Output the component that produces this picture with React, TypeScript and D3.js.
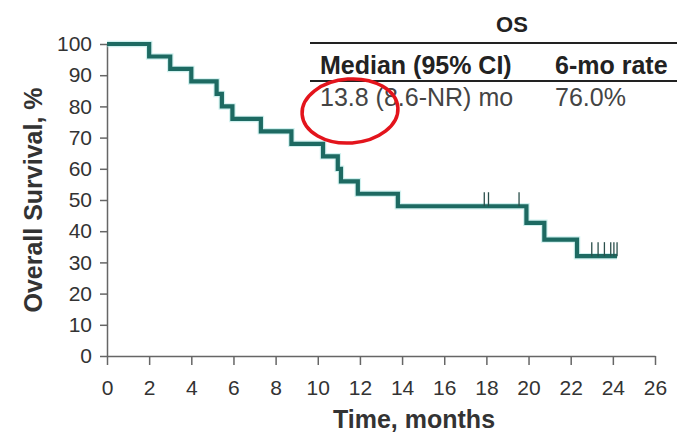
import React, { useEffect, useRef } from 'react';
import * as d3 from 'd3';

// Kaplan-Meier steps: time of each death (months) and survival (%) after it
const eventTimes = [2.0, 3.0, 4.0, 5.2, 5.45, 5.95, 7.3, 8.75, 10.25, 10.95, 11.1, 11.9, 13.8, 19.9, 20.75, 22.3];
const survivalAfter = [96, 92, 88, 84, 80, 76, 72, 68, 64, 60, 56, 52, 48, 42.7, 37.3, 32.0];
const censorTimes = [17.9, 18.1, 19.55, 23.0, 23.3, 23.6, 23.9, 24.05, 24.2];
const lastFollowUp = 24.2;

const xTicks = [0, 2, 4, 6, 8, 10, 12, 14, 16, 18, 20, 22, 24, 26];
const yTicks = [0, 10, 20, 30, 40, 50, 60, 70, 80, 90, 100];

const tableTitle = 'OS';
const tableHeaders = ['Median (95% CI)', '6-mo rate'];
const tableRow = ['13.8 (8.6-NR) mo', '76.0%'];

const W = 677;
const H = 435;
const FONT = 'Arial, "Liberation Sans", sans-serif';

function KMChart() {
  const svgRef = useRef<SVGSVGElement>(null);

  useEffect(() => {
    const svg = d3.select(svgRef.current);
    svg.selectAll('*').remove();

    const x = d3.scaleLinear().domain([0, 26]).range([107, 655]);
    const y = d3.scaleLinear().domain([0, 100]).range([356, 44]);

    // axes
    const xAxis = svg.append('g')
      .attr('transform', `translate(0, ${y(0)})`)
      .call(d3.axisBottom(x).tickValues(xTicks).tickSize(9).tickPadding(15).tickSizeOuter(0));
    const yAxis = svg.append('g')
      .attr('transform', `translate(${x(0)}, 0)`)
      .call(d3.axisLeft(y).tickValues(yTicks).tickSize(7).tickPadding(8).tickSizeOuter(0));

    [xAxis, yAxis].forEach(a => {
      a.select('.domain').attr('stroke', '#666').attr('stroke-width', 1.5);
      a.selectAll('.tick line').attr('stroke', '#666').attr('stroke-width', 1.5);
      a.selectAll('.tick text')
        .attr('fill', '#333')
        .style('font-family', FONT)
        .style('font-size', '21px');
    });

    // survival curve
    const pts = [{ t: 0, s: 100 }]
      .concat(eventTimes.map((t, i) => ({ t, s: survivalAfter[i] })))
      .concat([{ t: lastFollowUp, s: survivalAfter[survivalAfter.length - 1] }]);

    const line = d3.line<{ t: number; s: number }>()
      .x(d => x(d.t))
      .y(d => y(d.s))
      .curve(d3.curveStepAfter);

    svg.append('path')
      .datum(pts)
      .attr('fill', 'none')
      .attr('stroke', '#9fe3df')
      .attr('stroke-width', 6.5)
      .attr('opacity', 0.5)
      .attr('d', line);
    svg.append('path')
      .datum(pts)
      .attr('fill', 'none')
      .attr('stroke', '#1d6a62')
      .attr('stroke-width', 4.2)
      .attr('d', line);

    // censor marks
    const survAt = (t: number) => {
      let s = 100;
      eventTimes.forEach((e, i) => { if (e <= t) s = survivalAfter[i]; });
      return s;
    };
    svg.append('g')
      .selectAll('line')
      .data(censorTimes)
      .join('line')
      .attr('x1', d => x(d))
      .attr('x2', d => x(d))
      .attr('y1', d => y(survAt(d)) - 14)
      .attr('y2', d => y(survAt(d)))
      .attr('stroke', '#2a4f4b')
      .attr('stroke-width', 1.3);

    // axis titles
    svg.append('text')
      .attr('x', 414)
      .attr('y', 428)
      .attr('text-anchor', 'middle')
      .attr('fill', '#333')
      .style('font-family', FONT)
      .style('font-weight', 'bold')
      .style('font-size', '25px')
      .text('Time, months');
    svg.append('text')
      .attr('transform', `translate(42, 200) rotate(-90)`)
      .attr('text-anchor', 'middle')
      .attr('fill', '#333')
      .style('font-family', FONT)
      .style('font-weight', 'bold')
      .style('font-size', '25px')
      .text('Overall Survival, %');

    // results table
    const tbl = svg.append('g').style('font-family', FONT).style('font-size', '25px');
    tbl.append('text')
      .attr('x', 512).attr('y', 32)
      .attr('text-anchor', 'middle')
      .attr('fill', '#222')
      .style('font-weight', 'bold')
      .style('font-size', '22px')
      .text(tableTitle);
    [43, 81].forEach(ly => {
      tbl.append('line')
        .attr('x1', 310).attr('x2', W)
        .attr('y1', ly).attr('y2', ly)
        .attr('stroke', '#222')
        .attr('stroke-width', 2);
    });
    const colX = [320, 555];
    tableHeaders.forEach((h, i) => {
      tbl.append('text')
        .attr('x', colX[i]).attr('y', 74)
        .attr('fill', '#222')
        .style('font-weight', 'bold')
        .text(h);
    });
    tableRow.forEach((c, i) => {
      tbl.append('text')
        .attr('x', colX[i]).attr('y', 106)
        .attr('fill', '#444')
        .text(c);
    });

    // red highlight ellipse
    svg.append('ellipse')
      .attr('cx', 350).attr('cy', 111)
      .attr('rx', 48).attr('ry', 32)
      .attr('transform', 'rotate(-4, 350, 111)')
      .attr('fill', 'none')
      .attr('stroke', '#e3141c')
      .attr('stroke-width', 3.5);
  }, []);

  return (
    <svg ref={svgRef} width={W} height={H} style={{ position: 'absolute', left: 0, top: 0, background: '#fff' }} />
  );
}

export default function App() {
  return <KMChart />;
}
